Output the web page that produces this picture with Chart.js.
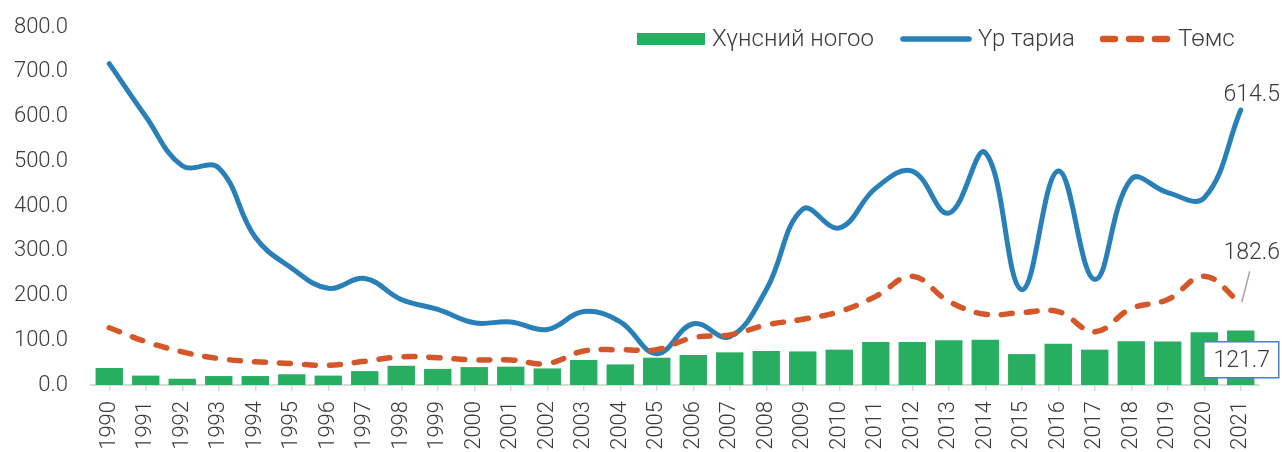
<!DOCTYPE html>
<html>
<head>
<meta charset="utf-8">
<script src="https://cdn.jsdelivr.net/npm/chart.js@4/dist/chart.umd.min.js"></script>
<style>
  html, body { margin: 0; padding: 0; background: #ffffff; }
  #wrap { width: 1282px; height: 452px; position: relative; }
</style>
</head>
<body>
<div id="wrap"><canvas id="c" width="1282" height="452"></canvas></div>
<script>
const years = ['1990','1991','1992','1993','1994','1995','1996','1997','1998','1999','2000','2001','2002','2003','2004','2005','2006','2007','2008','2009','2010','2011','2012','2013','2014','2015','2016','2017','2018','2019','2020','2021'];
const vegetables = [38, 21, 14, 20, 20, 24, 21, 31, 43, 36, 40, 41, 37, 56, 46, 61, 67, 73, 76, 75, 79, 96, 96, 100, 101, 69, 92, 79, 98, 97, 118, 121.7];
const grain = [718, 600, 490, 485, 330, 261, 216, 238, 191, 169, 139, 141, 124, 164, 141, 70, 137, 108, 213, 393, 351, 440, 478, 384, 519, 213, 478, 236, 460, 430, 418, 614.5];
const potato = [128, 97, 74, 59, 52, 48, 44, 53, 63, 61, 56, 56, 48, 76, 79, 79, 106, 112, 134, 147, 164, 198, 243, 187, 158, 162, 164, 119, 171, 191, 243, 182.6];
const seriesNames = ['Хүнсний ногоо', 'Үр тариа', 'Төмс'];
const yTicks = [0, 100, 200, 300, 400, 500, 600, 700, 800];

const GREEN = '#27ae60', BLUE = '#2980b9', ORANGE = '#d4572a', TXT = '#3a3a3a';
const FONT = 'Roboto, "Liberation Sans", sans-serif';

const legendPlugin = {
  id: 'customLegend',
  afterDraw(chart) {
    const ctx = chart.ctx;
    ctx.save();
    ctx.font = '300 24px ' + FONT;
    ctx.textBaseline = 'middle';
    ctx.textAlign = 'left';
    const y = 40;
    ctx.fillStyle = GREEN;
    ctx.fillRect(637, y - 7, 68, 12);
    ctx.fillStyle = TXT;
    ctx.fillText(seriesNames[0], 712, y);
    ctx.strokeStyle = BLUE; ctx.lineWidth = 5.5; ctx.lineCap = 'round';
    ctx.beginPath(); ctx.moveTo(903, y - 1); ctx.lineTo(969, y - 1); ctx.stroke();
    ctx.fillText(seriesNames[1], 978, y);
    ctx.strokeStyle = ORANGE; ctx.lineWidth = 6.5; ctx.setLineDash([12, 14]);
    ctx.beginPath(); ctx.moveTo(1103, y - 1); ctx.lineTo(1171, y - 1); ctx.stroke();
    ctx.setLineDash([]);
    ctx.fillText(seriesNames[2], 1178, y);
    ctx.restore();
  }
};

const labelPlugin = {
  id: 'lastLabels',
  afterDatasetsDraw(chart) {
    const ctx = chart.ctx;
    ctx.save();
    ctx.font = '300 23px ' + FONT;
    ctx.fillStyle = TXT;
    ctx.textAlign = 'center';
    ctx.textBaseline = 'middle';
    const n = years.length - 1;
    const pg = chart.getDatasetMeta(1).data[n];
    ctx.fillText(grain[n].toFixed(1), pg.x + 11, pg.y - 15);
    const pp = chart.getDatasetMeta(2).data[n];
    ctx.strokeStyle = '#a6a6a6'; ctx.lineWidth = 1.5;
    ctx.beginPath(); ctx.moveTo(pp.x + 1, pp.y - 1); ctx.lineTo(pp.x + 9, pp.y - 32); ctx.stroke();
    ctx.fillText(potato[n].toFixed(1), pp.x + 11, pp.y - 50);
    const pb = chart.getDatasetMeta(0).data[n];
    const cy = (pb.y + pb.base) / 2 + 2;
    ctx.fillStyle = '#ffffff';
    ctx.fillRect(pb.x - 37, cy - 18, 75, 36);
    ctx.strokeStyle = '#4f7fc0'; ctx.lineWidth = 1.5;
    ctx.strokeRect(pb.x - 37, cy - 18, 75, 36);
    ctx.fillStyle = TXT;
    ctx.fillText(vegetables[n].toFixed(1), pb.x + 1, cy + 1);
    ctx.restore();
  }
};

new Chart(document.getElementById('c'), {
  type: 'bar',
  data: {
    labels: years,
    datasets: [
      { type: 'bar', label: seriesNames[0], data: vegetables, backgroundColor: GREEN, borderWidth: 0, barPercentage: 0.75, categoryPercentage: 1, order: 2 },
      { type: 'line', label: seriesNames[1], data: grain, borderColor: BLUE, backgroundColor: BLUE, borderWidth: 5, pointRadius: 0, tension: 0.4, borderCapStyle: 'round', borderJoinStyle: 'round', order: 1 },
      { type: 'line', label: seriesNames[2], data: potato, borderColor: ORANGE, backgroundColor: ORANGE, borderWidth: 5.5, borderDash: [11, 14], borderCapStyle: 'round', pointRadius: 0, tension: 0.4, order: 0 }
    ]
  },
  options: {
    responsive: false,
    animation: false,
    events: [],
    layout: { padding: { top: 27, right: 23, left: 0, bottom: 0 } },
    plugins: { legend: { display: false }, tooltip: { enabled: false } },
    scales: {
      x: {
        offset: true,
        afterFit(s) { s.height = 67; s.paddingTop = 0; s.paddingBottom = 0; },
        grid: { offset: false, drawOnChartArea: false, drawTicks: true, tickLength: 6, color: '#d9d9d9', lineWidth: 1.5 },
        border: { display: true, color: '#d9d9d9', width: 2 },
        ticks: { autoSkip: false, maxRotation: 90, minRotation: 90, padding: 10, color: TXT, font: { family: FONT, size: 22, weight: 300 } }
      },
      y: {
        min: 0, max: 800,
        afterFit(s) { s.width = 91; s.paddingTop = 0; s.paddingBottom = 0; },
        afterBuildTicks(s) { s.ticks = yTicks.map(v => ({ value: v })); },
        grid: { display: false, drawTicks: false },
        border: { display: false },
        ticks: { padding: 23, color: TXT, font: { family: FONT, size: 22, weight: 300 }, callback: v => Number(v).toFixed(1) }
      }
    }
  },
  plugins: [legendPlugin, labelPlugin]
});
</script>
</body>
</html>
